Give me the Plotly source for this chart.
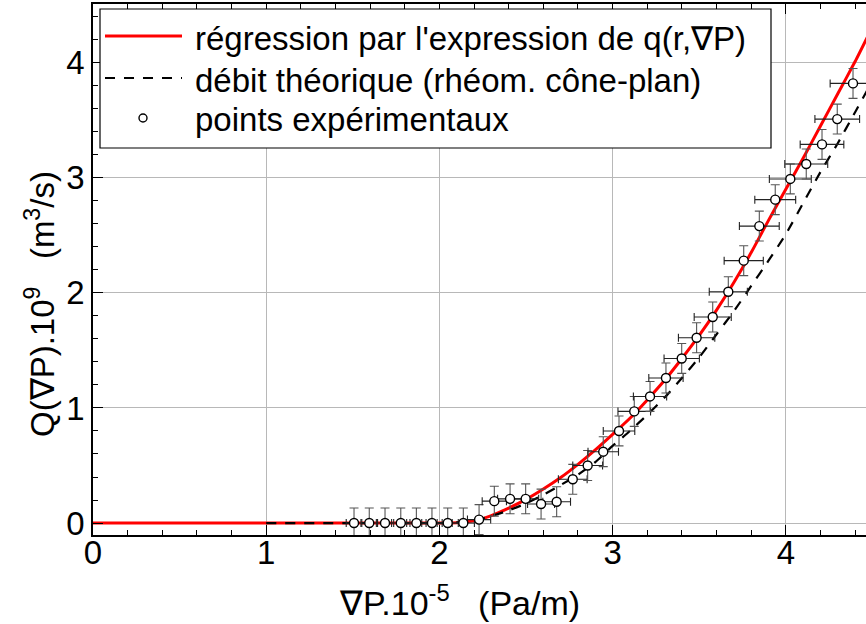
import plotly.graph_objects as go

# --- experimental points: pressure gradient (x 1e-5 Pa/m) vs flow rate (x 1e9 m3/s)
grad_exp = [1.507, 1.595, 1.686, 1.777, 1.867, 1.957, 2.048, 2.138, 2.229, 2.317,
            2.408, 2.498, 2.587, 2.677, 2.770, 2.856, 2.946, 3.037, 3.125, 3.216,
            3.308, 3.399, 3.485, 3.578, 3.668, 3.757, 3.847, 3.939, 4.026, 4.118,
            4.209, 4.297, 4.388]
flow_exp = [0.0, 0.0, 0.0, 0.0, 0.0, 0.0, 0.0, 0.0, 0.03, 0.19,
            0.21, 0.21, 0.165, 0.185, 0.38, 0.50, 0.62, 0.80, 0.97, 1.10,
            1.26, 1.43, 1.61, 1.79, 2.01, 2.28, 2.58, 2.81, 2.99, 3.12,
            3.29, 3.51, 3.82]
grad_err = [0.045, 0.048, 0.050, 0.053, 0.056, 0.059, 0.061, 0.064, 0.067, 0.070,
            0.072, 0.075, 0.078, 0.080, 0.083, 0.086, 0.088, 0.091, 0.094, 0.096,
            0.099, 0.102, 0.105, 0.107, 0.110, 0.113, 0.115, 0.118, 0.121, 0.124,
            0.126, 0.129, 0.132]
flow_err = [0.13] * len(grad_exp)

# --- regression curve q(r, grad P)
grad_fit = [0.0, 1.0, 2.0, 2.1, 2.2, 2.3, 2.4, 2.5, 2.6, 2.7, 2.8, 2.9, 3.0, 3.1,
            3.2, 3.3, 3.4, 3.5, 3.6, 3.7, 3.8, 3.9, 4.0, 4.1, 4.2, 4.3, 4.4, 4.47]
flow_fit = [0.0, 0.0, 0.0, 0.003, 0.02, 0.065, 0.13, 0.205, 0.295, 0.395, 0.51, 0.635,
            0.77, 0.91, 1.07, 1.24, 1.43, 1.63, 1.85, 2.09, 2.35, 2.63, 2.90, 3.17,
            3.45, 3.73, 4.01, 4.22]

# --- theoretical flow rate (cone-plate rheometry)
grad_th = [1.0, 2.0, 2.1, 2.2, 2.3, 2.4, 2.5, 2.6, 2.7, 2.8, 2.9, 3.0, 3.1, 3.2,
           3.3, 3.4, 3.5, 3.6, 3.7, 3.8, 3.9, 4.0, 4.1, 4.2, 4.3, 4.4, 4.47]
flow_th = [0.0, 0.0, 0.005, 0.025, 0.06, 0.11, 0.17, 0.245, 0.33, 0.42, 0.53, 0.67,
           0.80, 0.94, 1.09, 1.26, 1.44, 1.64, 1.84, 2.06, 2.28, 2.51, 2.78, 3.05,
           3.30, 3.57, 3.76]

x_ticks = [0, 1, 2, 3, 4]
y_ticks = [0, 1, 2, 3, 4]

legend_labels = ["régression par l'expression de q(r,∇P)",
                 "débit théorique (rhéom. cône-plan)",
                 "points expérimentaux"]

FONT = "Arial, Liberation Sans, sans-serif"
W, H = 866, 624
L, R, T, B = 93, 866, 4, 535   # plot area in pixels
NB = "\u00a0"


def px(xp):
    return (xp - L) / (R - L)


def py(yp):
    return (B - yp) / (B - T)


fig = go.Figure()

fig.add_trace(go.Scatter(
    x=grad_fit, y=flow_fit, mode="lines", name=legend_labels[0],
    line=dict(color="#ff0000", width=3, shape="spline", smoothing=0.6),
))
fig.add_trace(go.Scatter(
    x=grad_th, y=flow_th, mode="lines", name=legend_labels[1],
    line=dict(color="black", width=2.2, dash="10px,9px", shape="spline", smoothing=0.6),
))
fig.add_trace(go.Scatter(
    x=grad_exp, y=flow_exp, mode="markers", name=legend_labels[2],
    marker=dict(symbol="circle", size=9, color="white",
                line=dict(color="black", width=1.4)),
    error_x=dict(type="data", array=grad_err, color="#222222", thickness=1.1, width=4),
    error_y=dict(type="data", array=flow_err, color="#555555", thickness=1.1, width=4.5),
))

axis_common = dict(
    showline=True, linecolor="black", linewidth=1.5,
    ticks="inside", ticklen=10, tickwidth=1.3, tickcolor="black",
    showgrid=True, gridcolor="#b8b8b8", gridwidth=1, zeroline=False,
    tickfont=dict(family=FONT, size=33, color="black"),
    minor=dict(ticks="inside", ticklen=5, tickwidth=1.2, tickcolor="black",
               dtick=0.2, showgrid=False),
)

fig.update_layout(
    width=W, height=H,
    margin=dict(l=L, r=W - R, t=T, b=H - B),
    paper_bgcolor="white", plot_bgcolor="white",
    showlegend=False,
    xaxis=dict(range=[0, 4.463], tickvals=x_ticks, mirror="ticks",
               ticklabelstandoff=-12, **axis_common),
    yaxis=dict(range=[-0.104, 4.51], tickvals=y_ticks, **axis_common),
)

# axis titles
fig.add_annotation(text="∇P.10<sup>-5</sup>" + NB * 3 + "(Pa/m)",
                   xref="paper", yref="paper", x=px(459), y=py(600),
                   xanchor="center", yanchor="middle", showarrow=False,
                   font=dict(family=FONT, size=34, color="black"))
fig.add_annotation(text="Q(∇P).10<sup>9</sup>" + NB * 3 + "(m<sup>3</sup>/s)",
                   xref="paper", yref="paper", x=px(40), y=py(304),
                   xanchor="center", yanchor="middle", textangle=-90,
                   showarrow=False,
                   font=dict(family=FONT, size=33, color="black"))

# legend box drawn in paper coordinates
shapes = [dict(type="rect", xref="paper", yref="paper",
               x0=px(100), x1=px(771), y0=py(148), y1=py(9),
               line=dict(color="black", width=1.2), fillcolor="white", layer="above")]
shapes.append(dict(type="line", xref="paper", yref="paper",
                   x0=px(105), x1=px(182), y0=py(36), y1=py(36),
                   line=dict(color="#ff0000", width=3), layer="above"))
shapes.append(dict(type="line", xref="paper", yref="paper",
                   x0=px(105), x1=px(182), y0=py(78), y1=py(78),
                   line=dict(color="black", width=2.2, dash="10px,9px"), layer="above"))
shapes.append(dict(type="circle", xref="paper", yref="paper",
                   xsizemode="pixel", ysizemode="pixel",
                   xanchor=px(143), yanchor=py(118), x0=-4, x1=4, y0=-4, y1=4,
                   line=dict(color="black", width=1.4), fillcolor="white", layer="above"))
fig.update_layout(shapes=shapes)

for label, yp in zip(legend_labels, [38, 80, 120]):
    fig.add_annotation(text=label, xref="paper", yref="paper",
                       x=px(193), y=py(yp), xanchor="left", yanchor="middle",
                       showarrow=False,
                       font=dict(family=FONT, size=33, color="black"))

fig.write_html("out.html")
